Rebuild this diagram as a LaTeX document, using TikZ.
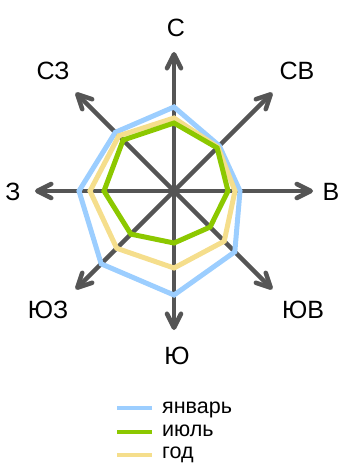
\documentclass[tikz,border=0pt]{standalone}
\usepackage{fontspec}
\setmainfont{Liberation Sans}
\usetikzlibrary{arrows.meta,calc}
\definecolor{axisgray}{HTML}{555555}
\definecolor{janblue}{HTML}{9CCEFF}
\definecolor{julgreen}{HTML}{8CC800}
\definecolor{yearyellow}{HTML}{F5DE8C}
\tikzset{
  axisline/.style={draw=axisgray, line width=4.5pt, -{Straight Barb[length=14pt,width=14pt,line cap=round,line join=round]}},
  poly/.style={line width=5pt, line join=miter},
  dirlabel/.style={font=\fontsize{25}{29}\selectfont, anchor=base, inner sep=0pt},
  legline/.style={line width=4pt},
  legtext/.style={font=\fontsize{21.5}{25}\selectfont, anchor=base west, inner sep=0pt}
}
\begin{document}
\begin{tikzpicture}[x=1pt,y=-1pt]
\useasboundingbox (0,0) rectangle (340,476);
\coordinate (c) at (174,191);
% arrow tips (angles in flipped y: 0=E, 90=S, 180=W, 270=N)
\foreach \nm/\a in {n/270, ne/315, e/0, se/45, s/90, sw/135, w/180, nw/225}{
  \coordinate (t\nm) at ($(c)+(\a:139)$);
}
\foreach \nm in {n, ne, e, se, s, sw, w, nw}{
  \draw[axisline] (c) -- (t\nm);
}
% polygons
\newcommand{\radarpoly}[9]{%
  \draw[poly,#1] ($(c)+(270:#2)$) -- ($(c)+(315:#3)$) -- ($(c)+(0:#4)$) -- ($(c)+(45:#5)$) -- ($(c)+(90:#6)$) -- ($(c)+(135:#7)$) -- ($(c)+(180:#8)$) -- ($(c)+(225:#9)$) -- cycle;}
\radarpoly{janblue}{84}{64}{66}{86}{104}{103}{95}{83}
\radarpoly{yearyellow}{73}{62}{61}{71}{77}{81}{84}{78}
\radarpoly{julgreen}{68}{61}{54}{51}{52}{61}{70}{72}
% labels
\node[dirlabel] (ln) at (176,37) {С};
\node[dirlabel] (lne) at (297,80) {СВ};
\node[dirlabel] (le) at (331,200) {В};
\node[dirlabel] (lse) at (303,318) {ЮВ};
\node[dirlabel] (ls) at (177,364) {Ю};
\node[dirlabel] (lsw) at (48,318) {ЮЗ};
\node[dirlabel] (lw) at (13,200) {З};
\node[dirlabel] (lnw) at (53,80) {СЗ};
% legend
\coordinate (l1a) at (117,408); \coordinate (l1b) at (152,408);
\coordinate (l2a) at (117,432); \coordinate (l2b) at (152,432);
\coordinate (l3a) at (117,455); \coordinate (l3b) at (152,455);
\draw[legline,janblue] (l1a) -- (l1b);
\draw[legline,julgreen] (l2a) -- (l2b);
\draw[legline,yearyellow] (l3a) -- (l3b);
\node[legtext] (g1) at (162,413) {январь};
\node[legtext] (g2) at (162,436) {июль};
\node[legtext] (g3) at (162,458) {год};
\end{tikzpicture}
\end{document}
